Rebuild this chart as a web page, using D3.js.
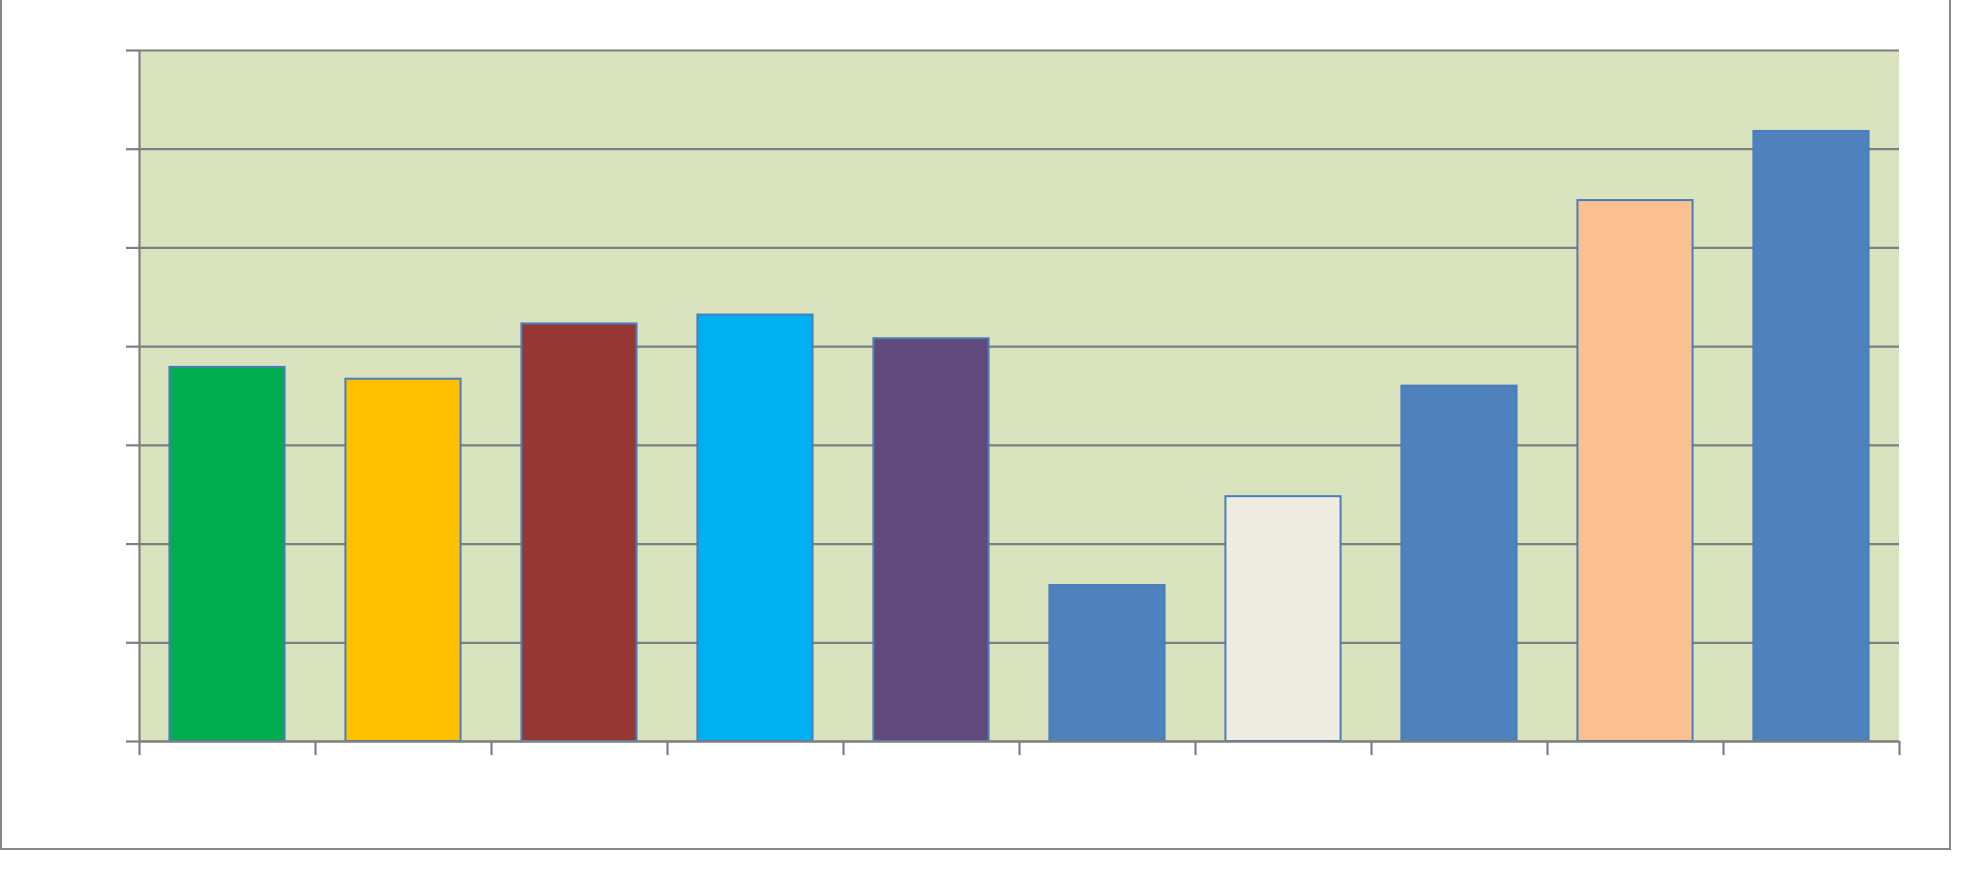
<!DOCTYPE html>
<html>
<head>
<meta charset="utf-8">
<script src="https://cdn.jsdelivr.net/npm/d3@7"></script>
<style>
  html, body { margin: 0; padding: 0; background: #fff; }
  svg { display: block; }
</style>
</head>
<body>
<div id="chart"></div>
<script>
// Unlabelled column chart, ten categories on a 0–7 scale.
const categories = ['c1', 'c2', 'c3', 'c4', 'c5', 'c6', 'c7', 'c8', 'c9', 'c10'];
const values = [3.79, 3.67, 4.23, 4.32, 4.08, 1.58, 2.48, 3.60, 5.48, 6.18];
const barColors = ['#00AD50', '#FFC000', '#953735', '#00B0F0', '#604A7B',
                   '#4F81BD', '#EEECE1', '#4F81BD', '#FAC090', '#4F81BD'];
const yTicks = [0, 1, 2, 3, 4, 5, 6, 7];

const width = 1972, height = 885;
const margin = { top: 50, right: 73, bottom: 144, left: 139 };
const innerW = width - margin.left - margin.right;
const innerH = height - margin.top - margin.bottom;

const GRID = '#7F7F7F';
const PLOT_BG = '#D9E4BF';
const BAR_EDGE = '#4A7EBB';

const svg = d3.select('#chart').append('svg')
  .attr('width', width).attr('height', height);

// outer chart frame (top edge sits just off-canvas)
svg.append('rect')
  .attr('x', 1).attr('y', -6)
  .attr('width', 1949).attr('height', 855)
  .attr('fill', 'none')
  .attr('stroke', '#878787')
  .attr('stroke-width', 2);

const g = svg.append('g').attr('transform', `translate(${margin.left},${margin.top})`);

const x = d3.scaleBand()
  .domain(categories)
  .range([0, innerW])
  .paddingInner(0.34)
  .paddingOuter(0.17);

// boundary scale for the category tick marks
const xEdge = d3.scaleLinear().domain([0, categories.length]).range([0, innerW]);

const y = d3.scaleLinear().domain([0, 7]).range([innerH, 0]);

g.append('rect')
  .attr('width', innerW).attr('height', innerH)
  .attr('fill', PLOT_BG);

// horizontal gridlines
const grid = g.append('g')
  .call(d3.axisLeft(y).tickValues(yTicks).tickSize(-innerW).tickFormat(''));
grid.select('.domain').remove();
grid.selectAll('line').attr('stroke', GRID).attr('stroke-width', 2.2);

// bars
g.append('g').selectAll('rect')
  .data(values)
  .join('rect')
    .attr('x', (_, i) => x(categories[i]) + 0.5)
    .attr('y', d => y(d))
    .attr('width', x.bandwidth() - 1)
    .attr('height', d => innerH - y(d))
    .attr('fill', (_, i) => barColors[i])
    .attr('stroke', BAR_EDGE)
    .attr('stroke-width', 2);

// y axis
const yAxis = g.append('g')
  .call(d3.axisLeft(y).tickValues(yTicks).tickSize(13).tickSizeOuter(0).tickFormat(''));
yAxis.selectAll('line, path').attr('stroke', GRID).attr('stroke-width', 2.2);

// x axis
const xAxis = g.append('g')
  .attr('transform', `translate(0,${innerH})`)
  .call(d3.axisBottom(xEdge).tickValues(d3.range(categories.length + 1))
    .tickSize(14).tickSizeOuter(0).tickFormat(''));
xAxis.selectAll('line, path').attr('stroke', GRID).attr('stroke-width', 2.2);
</script>
</body>
</html>
